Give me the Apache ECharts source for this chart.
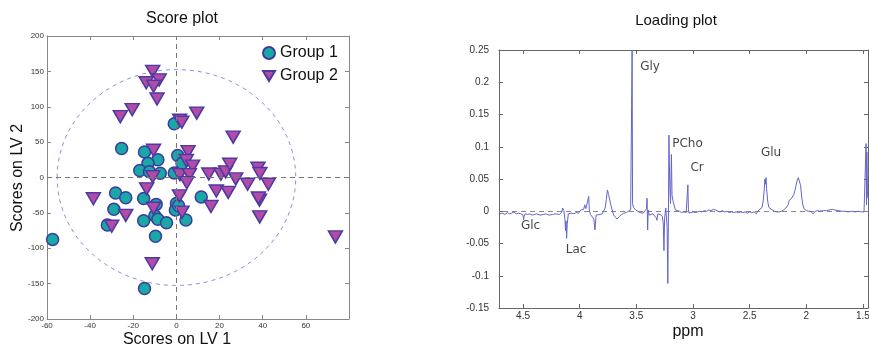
<!DOCTYPE html>
<html><head><meta charset="utf-8">
<script src="https://cdn.jsdelivr.net/npm/echarts@6/dist/echarts.min.js"></script>
<style>html,body{margin:0;padding:0;background:#fff}#c{width:869px;height:347px}</style>
</head><body><div id="c"></div>
<script>
// ---- Score plot data (LV1, LV2) ----
const group1 = [[-57.4,-87.5],[-32,-67],[-29,-45],[-28.2,-22],[-23.5,-28.5],[-25.4,41],[-14.8,36],[-8.6,25],[-13.2,20],[-17,10],[-12.5,8],[-7.5,6],[-1,6.5],[0.6,31],[2.6,20],[-1,76],[-15.2,-29.7],[-9.4,-38],[-10,-54],[-8.6,-59],[-15.2,-61],[-4.6,-64],[-9.7,-83],[-14.8,-157],[0,-36.7],[-0.5,-46],[4.4,-60],[11.5,-27.5],[1,-40]];
const group2 = [[-11,150],[-14,134],[-8,138],[-10.6,129],[-9,111],[-26,86],[-20.5,96],[1.5,81],[2.5,78],[9.4,91],[26.3,57],[-10.6,38.5],[5.4,36.5],[4.6,24],[7.5,16],[1.6,4],[6,4],[-11,1],[15,5],[20.6,4.5],[22.8,8],[24.7,18.8],[27.5,-2],[37.8,13],[38.7,5.6],[-13.8,-16],[-38.5,-30],[-23.5,-53.5],[-30,-69],[-10.6,-43.5],[1.4,-26],[2.6,-49],[4.8,-7.5],[33,-9.5],[42.6,-9.5],[16,-41],[18.5,-19],[24,-21],[38.5,-32],[38,-29],[38.6,-55.6],[-11.2,-122],[73.7,-84]];
const ellipseCenter = [0, 0];
const ellipseRadii = [55.3, 152.5];

// ---- Loading plot data (ppm, loading) ----
const specPpm = [4.71,4.68,4.66,4.64,4.62,4.60,4.58,4.56,4.54,4.52,4.50,4.495,4.49,4.48,4.46,4.44,4.42,4.40,4.38,4.35,4.32,4.30,4.27,4.24,4.21,4.18,4.16,4.15,4.14,4.13,4.125,4.12,4.115,4.11,4.10,4.09,4.07,4.05,4.03,4.01,3.99,3.98,3.965,3.955,3.945,3.93,3.92,3.915,3.905,3.89,3.875,3.865,3.855,3.84,3.82,3.80,3.785,3.775,3.765,3.755,3.745,3.735,3.725,3.715,3.70,3.685,3.67,3.66,3.65,3.63,3.61,3.59,3.57,3.55,3.54,3.537,3.533,3.525,3.515,3.505,3.49,3.47,3.455,3.44,3.425,3.41,3.405,3.40,3.395,3.385,3.37,3.355,3.34,3.325,3.318,3.31,3.30,3.29,3.28,3.27,3.262,3.256,3.25,3.24,3.235,3.228,3.222,3.216,3.212,3.205,3.198,3.19,3.185,3.175,3.165,3.155,3.14,3.12,3.10,3.08,3.06,3.05,3.045,3.04,3.035,3.02,3.00,2.98,2.96,2.94,2.92,2.90,2.88,2.86,2.84,2.82,2.80,2.78,2.76,2.74,2.72,2.70,2.68,2.66,2.64,2.62,2.60,2.58,2.56,2.54,2.52,2.50,2.48,2.46,2.44,2.43,2.42,2.41,2.40,2.39,2.38,2.37,2.365,2.36,2.355,2.35,2.34,2.33,2.32,2.30,2.28,2.26,2.24,2.22,2.20,2.18,2.16,2.15,2.14,2.13,2.12,2.11,2.10,2.09,2.08,2.07,2.065,2.06,2.05,2.04,2.03,2.02,2.00,1.98,1.96,1.94,1.92,1.90,1.88,1.85,1.82,1.80,1.77,1.75,1.72,1.69,1.66,1.63,1.60,1.57,1.54,1.51,1.49,1.475,1.472,1.468,1.465,1.46,1.456];
const specLoad = [-0.004,-0.003,-0.005,-0.002,-0.004,-0.003,-0.001,-0.004,-0.003,-0.004,-0.006,-0.013,-0.008,-0.004,-0.005,-0.004,-0.006,-0.005,-0.004,-0.006,-0.005,-0.004,-0.006,-0.005,-0.004,-0.005,-0.002,0.005,0.001,-0.012,-0.030,-0.015,-0.042,-0.020,-0.004,-0.002,-0.003,-0.004,-0.002,-0.003,0.002,0.005,0.003,0.010,0.004,0.006,0.023,0.002,-0.005,-0.008,-0.012,-0.029,-0.006,-0.003,-0.005,-0.004,-0.002,0.005,0.018,0.033,0.026,0.028,0.010,0.003,-0.006,-0.008,-0.012,-0.014,-0.008,-0.005,-0.003,-0.002,0.000,0.002,0.004,0.25,0.012,0.006,0.008,0.002,0.003,-0.002,0.000,-0.003,-0.004,0.004,0.020,-0.029,0.002,-0.006,-0.003,-0.004,-0.002,-0.010,-0.014,-0.004,-0.003,-0.005,-0.003,-0.008,-0.020,-0.061,-0.010,0.005,0.003,-0.025,-0.112,0.005,0.118,0.040,0.012,0.088,0.025,0.015,0.012,0.002,-0.001,0.000,-0.002,-0.001,-0.002,0.000,0.041,0.002,-0.003,-0.001,-0.001,-0.002,-0.001,0.000,-0.001,0.001,0.000,0.002,0.001,0.003,0.002,0.000,-0.001,0.001,-0.001,0.000,-0.002,-0.001,-0.002,-0.001,-0.002,-0.001,-0.002,-0.001,-0.003,-0.001,-0.002,-0.001,-0.004,0.000,-0.002,0.003,0.002,0.006,0.016,0.035,0.050,0.042,0.052,0.035,0.015,0.006,0.003,0.002,0.000,-0.001,-0.001,0.000,0.002,0.005,0.010,0.017,0.015,0.020,0.022,0.026,0.032,0.040,0.048,0.052,0.054,0.050,0.040,0.022,0.010,0.004,0.001,0.000,0.000,-0.004,0.000,0.001,0.000,0.001,0.001,0.002,0.003,0.002,0.001,0.000,0.000,-0.001,0.000,-0.001,0.000,-0.001,-0.001,0.000,0.105,0.010,0.092,0.030,0.020];
const peakNames = ['Gly','PCho','Cr','Glu','Glc','Lac'];
const peakPpm = [3.379,3.048,2.964,2.311,4.434,4.032];
const peakLoad = [0.2236,0.104,0.067,0.090,-0.023,-0.060];
const ppmTicks = [4.5,4,3.5,3,2.5,2,1.5];

const chart = echarts.init(document.getElementById('c'), null, {renderer:'canvas'});
const FONT = 'Liberation Sans, Arial, sans-serif';

function boxAxis(type, gridIndex, pos, extra, color, labelSize, showLabel) {
  return Object.assign({
    type: 'value', gridIndex: gridIndex, position: pos,
    splitLine: {show:false},
    axisLine: {show:true, onZero:false, lineStyle:{color:color, width:1}},
    axisTick: {show:true, inside:true, length:4, lineStyle:{color:color}},
    axisLabel: {show:showLabel, fontSize:labelSize, color:'#333', fontFamily:FONT}
  }, extra);
}

const option = {
  animation: false,
  backgroundColor: '#fff',
  grid: [
    {left:47, right:520, top:36, bottom:28, containLabel:false, outerBoundsMode:'none'},
    {left:499, right:1, top:50, bottom:39, containLabel:false, outerBoundsMode:'none'}
  ],
  xAxis: [
    boxAxis('x',0,'bottom',{min:-60,max:80,interval:20,axisLabel:{show:true,fontSize:8,color:'#333',margin:3,showMaxLabel:false,fontFamily:FONT}},'#888',8,true),
    boxAxis('x',0,'top',{min:-60,max:80,interval:20},'#888',8,false),
    boxAxis('x',1,'bottom',{min:1.455,max:4.712,inverse:true,
      axisLabel:{show:true,fontSize:10,color:'#333',margin:3,fontFamily:FONT,customValues:ppmTicks},
      axisTick:{show:true,inside:true,length:4,lineStyle:{color:'#666'},customValues:ppmTicks}},'#666',10,true),
    boxAxis('x',1,'top',{min:1.455,max:4.712,inverse:true,
      axisLabel:{show:false,customValues:ppmTicks},
      axisTick:{show:true,inside:true,length:4,lineStyle:{color:'#666'},customValues:ppmTicks}},'#666',10,false)
  ],
  yAxis: [
    boxAxis('y',0,'left',{min:-200,max:200,interval:50,axisLabel:{show:true,fontSize:8,color:'#333',margin:3,fontFamily:FONT}},'#888',8,true),
    boxAxis('y',0,'right',{min:-200,max:200,interval:50},'#888',8,false),
    boxAxis('y',1,'left',{min:-0.15,max:0.25,interval:0.05,axisLabel:{show:true,fontSize:10,color:'#333',margin:10,fontFamily:FONT}},'#666',10,true),
    boxAxis('y',1,'right',{min:-0.15,max:0.25,interval:0.05},'#666',10,false)
  ],
  legend: {
    orient:'vertical', left:257, top:40, itemGap:7, itemWidth:12, itemHeight:12,
    textStyle:{fontSize:16, color:'#111', fontFamily:FONT},
    data:['Group 1','Group 2']
  },
  graphic: [
    {type:'text', x:182, y:19, style:{text:'Score plot', font:'16px '+FONT, fill:'#111', textAlign:'center', textVerticalAlign:'middle'}},
    {type:'text', x:676, y:21, style:{text:'Loading plot', font:'15px '+FONT, fill:'#111', textAlign:'center', textVerticalAlign:'middle'}},
    {type:'text', x:177, y:340, style:{text:'Scores on LV 1', font:'16px '+FONT, fill:'#111', textAlign:'center', textVerticalAlign:'middle'}},
    {type:'text', x:18, y:178, rotation:Math.PI/2, style:{text:'Scores on LV 2', font:'16px '+FONT, fill:'#111', textAlign:'center', textVerticalAlign:'middle'}},
    {type:'text', x:688, y:332, style:{text:'ppm', font:'16px '+FONT, fill:'#111', textAlign:'center', textVerticalAlign:'middle'}}
  ],
  series: [
    {
      type:'custom', xAxisIndex:0, yAxisIndex:0, silent:true, z:1,
      data:[ellipseCenter],
      renderItem: function(params, api){
        const c = api.coord([api.value(0), api.value(1)]);
        const s = api.size([ellipseRadii[0], ellipseRadii[1]]);
        return {type:'ellipse', shape:{cx:c[0], cy:c[1], rx:s[0], ry:s[1]},
          style:{fill:null, stroke:'#8e8ee2', lineWidth:1, lineDash:[4,4]}};
      },
      markLine: {silent:true, symbol:['none','none'], label:{show:false},
        lineStyle:{color:'#777', type:[5,4], width:1},
        data:[{xAxis:0},{yAxis:0}]}
    },
    {
      name:'Group 1', type:'scatter', xAxisIndex:0, yAxisIndex:0, z:3,
      symbol:'circle', symbolSize:12,
      itemStyle:{color:'#19a8a5', borderColor:'#3d3aa0', borderWidth:1.5, opacity:1},
      data: group1
    },
    {
      name:'Group 2', type:'scatter', xAxisIndex:0, yAxisIndex:0, z:4,
      symbol:'path://M0,0L20,0L10,17Z', symbolSize:[14,12],
      itemStyle:{color:'#b24aa8', borderColor:'#4a3aa2', borderWidth:1.5, opacity:1},
      data: group2
    },
    {
      type:'line', xAxisIndex:2, yAxisIndex:2, z:3, showSymbol:false, symbol:'none',
      lineStyle:{color:'#6464c8', width:1},
      data: specPpm.map((p,i)=>[p, specLoad[i]]),
      markLine: {silent:true, symbol:['none','none'], label:{show:false},
        lineStyle:{color:'#888', type:[5,4], width:1}, z:2,
        data:[{yAxis:0}]}
    },
    {
      type:'scatter', xAxisIndex:2, yAxisIndex:2, z:5, symbolSize:1, silent:true,
      itemStyle:{color:'rgba(0,0,0,0)'},
      label:{show:true, position:'inside', formatter:'{b}', fontSize:12, color:'#111', fontFamily:'DejaVu Sans'},
      data: peakNames.map((n,i)=>({name:n, value:[peakPpm[i], peakLoad[i]]}))
    }
  ]
};
chart.setOption(option);
</script></body></html>
